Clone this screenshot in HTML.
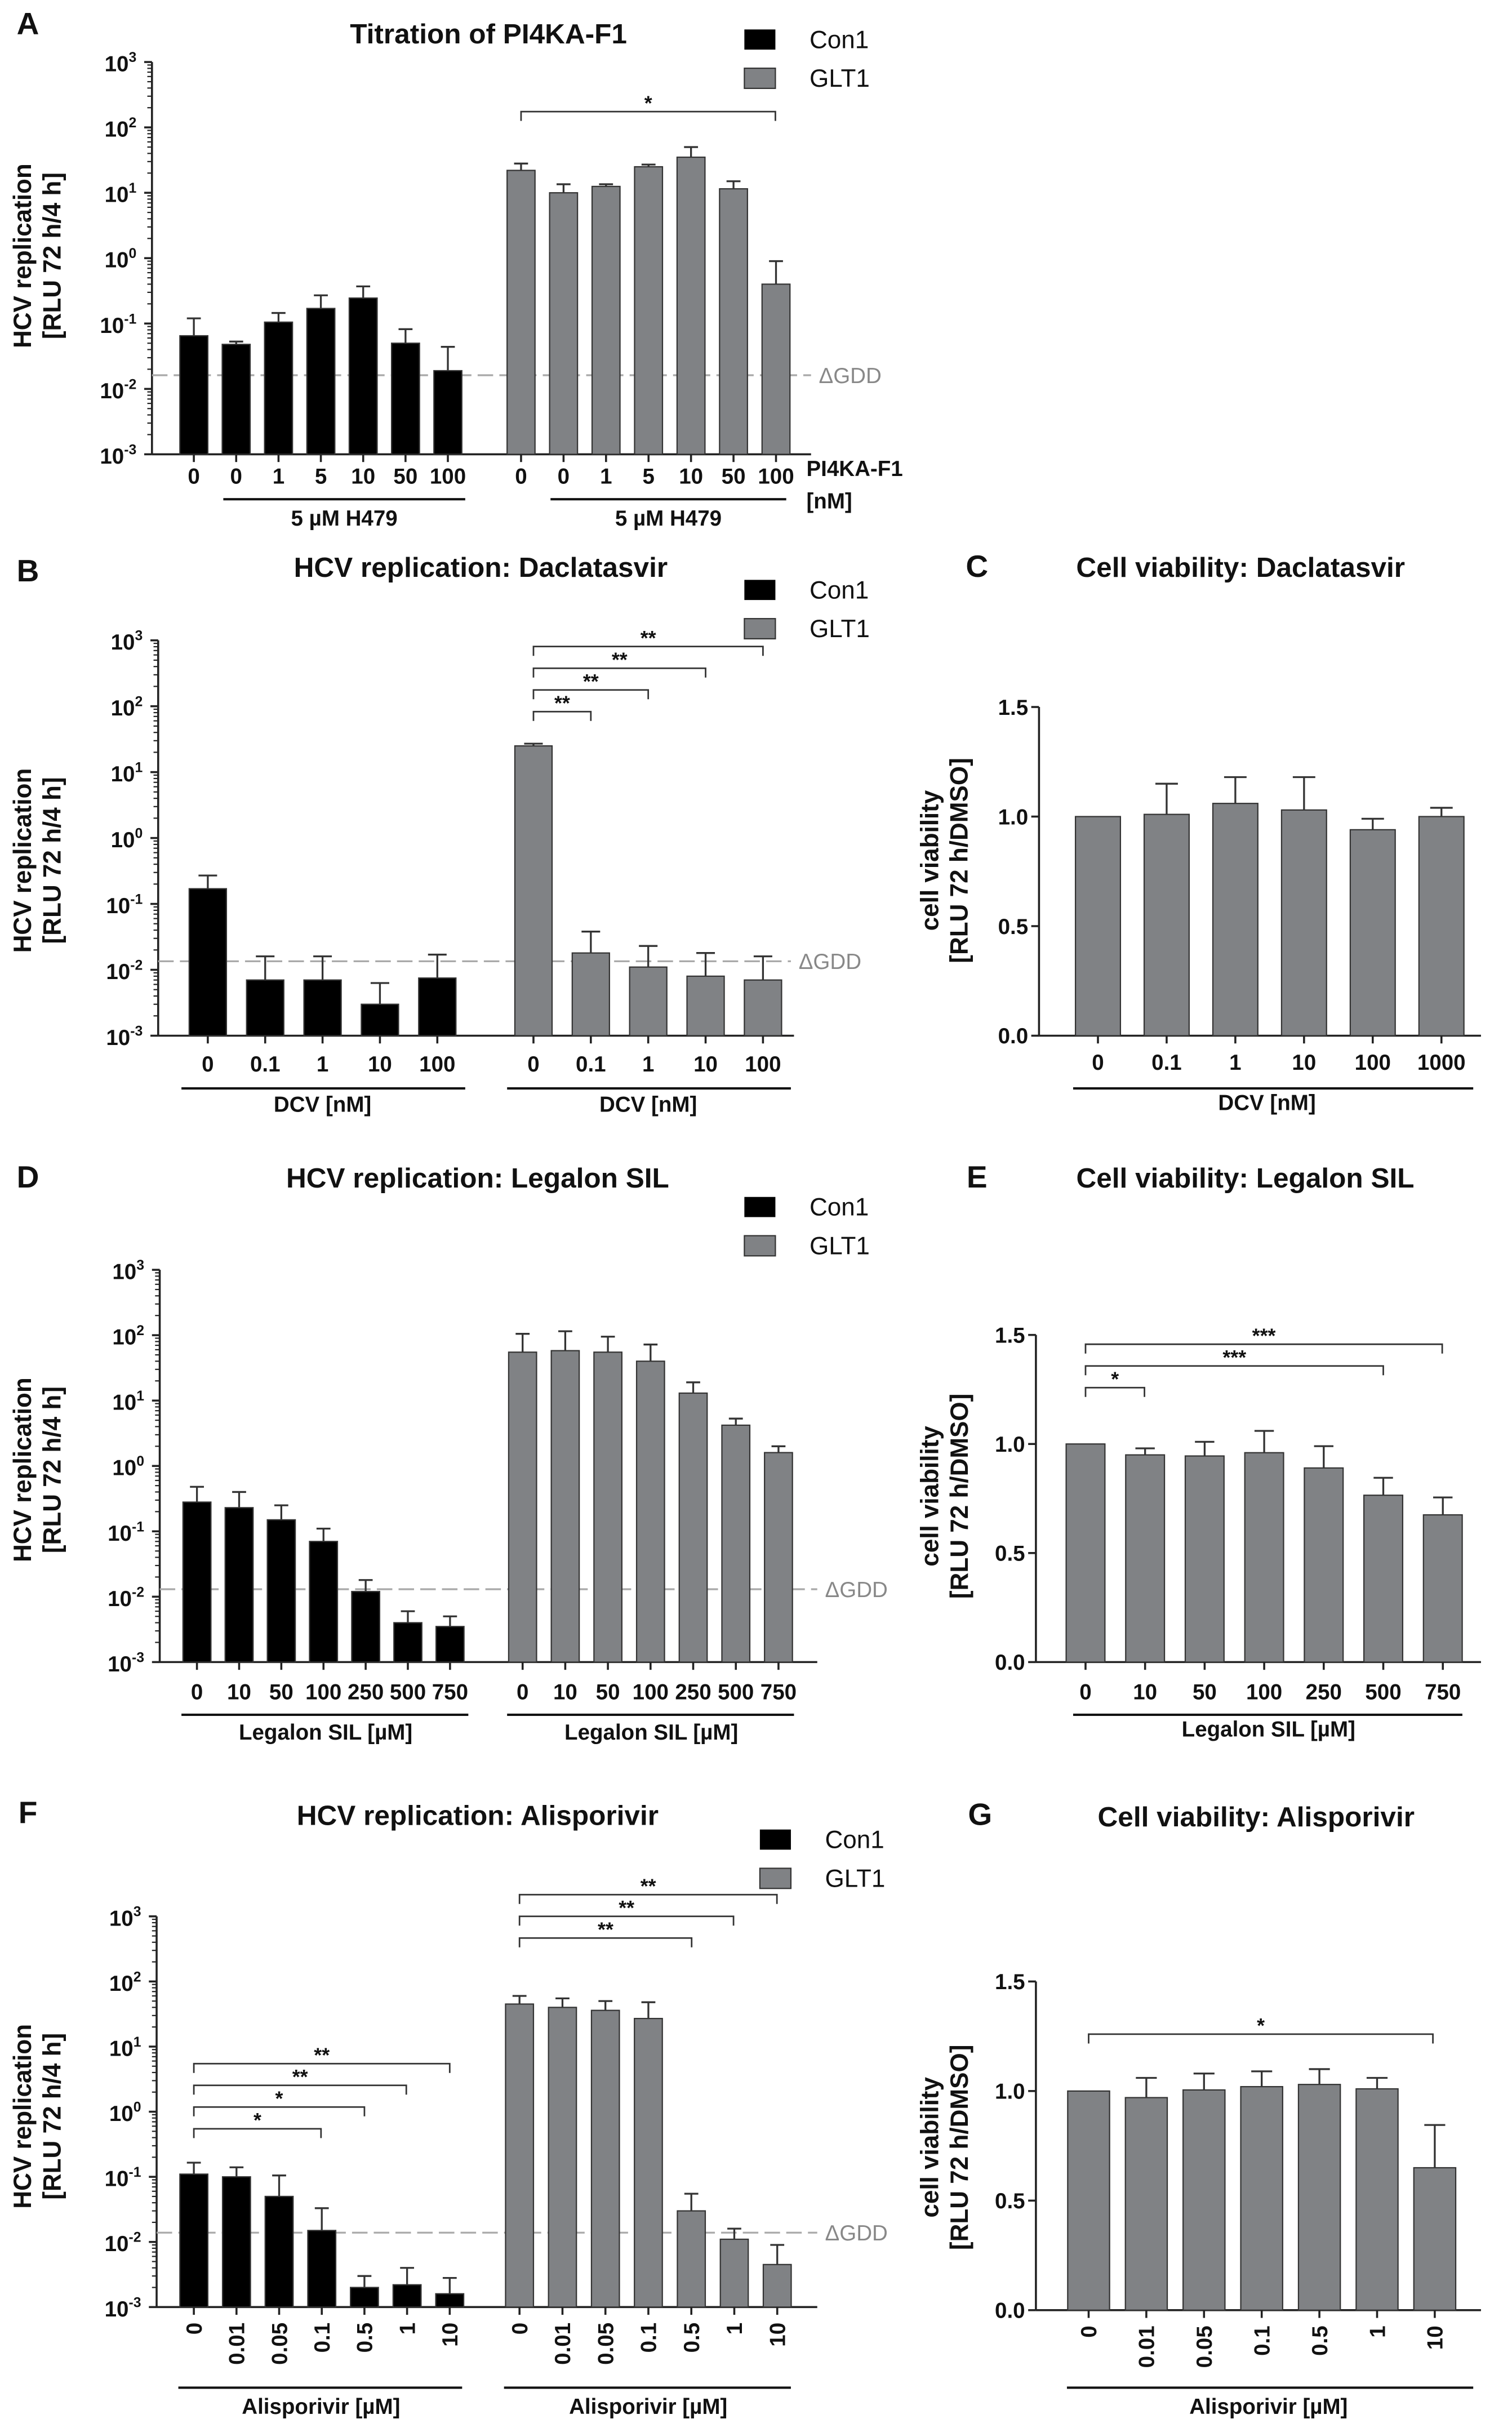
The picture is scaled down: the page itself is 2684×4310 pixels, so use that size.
<!DOCTYPE html>
<html><head><meta charset="utf-8"><style>
html,body{margin:0;padding:0;background:#fff}
svg{display:block}
text{font-family:"Liberation Sans",sans-serif;font-weight:bold;fill:#111}
</style></head><body>
<svg id="fig" xmlns="http://www.w3.org/2000/svg" width="2684" height="4310" viewBox="0 0 975 1566" preserveAspectRatio="none"></svg>
<script>
// ---------- data ----------
const aLabels = ["0","0","1","5","10","50","100"];
const aCon1 = [0.065,0.048,0.105,0.17,0.245,0.05,0.019];
const aCon1Err = [0.12,0.053,0.145,0.27,0.37,0.082,0.044];
const aGlt = [22,10,12.5,25,35,11.5,0.4];
const aGltErr = [28,13.5,13.5,27,50,15,0.9];

const bLabels = ["0","0.1","1","10","100"];
const bCon1 = [0.17,0.007,0.007,0.003,0.0075];
const bCon1Err = [0.27,0.016,0.016,0.0063,0.017];
const bGlt = [25,0.018,0.011,0.008,0.007];
const bGltErr = [27,0.038,0.023,0.018,0.016];

const cLabels = ["0","0.1","1","10","100","1000"];
const cVals = [1.0,1.01,1.06,1.03,0.94,1.0];
const cErr = [1.0,1.15,1.18,1.18,0.99,1.04];

const dLabels = ["0","10","50","100","250","500","750"];
const dCon1 = [0.28,0.23,0.15,0.07,0.012,0.004,0.0035];
const dCon1Err = [0.48,0.4,0.25,0.11,0.018,0.006,0.005];
const dGlt = [55,58,55,40,13,4.2,1.6];
const dGltErr = [105,115,95,72,19,5.3,2.0];

const eLabels = ["0","10","50","100","250","500","750"];
const eVals = [1.0,0.95,0.945,0.96,0.89,0.765,0.675];
const eErr = [1.0,0.98,1.01,1.06,0.99,0.845,0.755];

const fLabels = ["0","0.01","0.05","0.1","0.5","1","10"];
const fCon1 = [0.11,0.1,0.05,0.015,0.002,0.0022,0.0016];
const fCon1Err = [0.165,0.14,0.105,0.033,0.003,0.004,0.0028];
const fGlt = [45,40,36,27,0.03,0.011,0.0045];
const fGltErr = [60,55,50,48,0.055,0.016,0.009];

const gLabels = ["0","0.01","0.05","0.1","0.5","1","10"];
const gVals = [1.0,0.97,1.005,1.02,1.03,1.01,0.65];
const gErr = [1.0,1.06,1.08,1.09,1.1,1.06,0.845];

// ---------- drawing helpers ----------
const NS="http://www.w3.org/2000/svg";
const svg=document.getElementById('fig');
function el(tag,attrs,parent,txt){const e=document.createElementNS(NS,tag);for(const k in attrs)e.setAttribute(k,attrs[k]);if(txt!==undefined)e.textContent=txt;(parent||svg).appendChild(e);return e;}
function line(x1,y1,x2,y2,name,stroke,w,dash){
  const l=el('line',{x1,y1,x2,y2,stroke:stroke||'#222','stroke-width':w||1.3});
  if(dash)l.setAttribute('stroke-dasharray',dash);
  
  
  return l;}
function text(x,y,s,size,name,anchor,fill,rot){
  const t=el('text',{x,y,'font-size':size,'text-anchor':anchor||'middle'},null,s);
  if(fill)t.setAttribute('style','fill:'+fill+';font-weight:normal');
  if(rot)t.setAttribute('transform','rotate(-90 '+x+' '+y+')');
  
  
  return t;}
function sup(x,y,exp,name){
  const t=el('text',{x,y,'font-size':14,'text-anchor':'end'});
  
  
  el('tspan',{},t,'10');
  el('tspan',{dy:-6,'font-size':9},t,exp);
  return t;}
function logY(top,bot){const dec=(bot-top)/6;return v=>top+(3-Math.log10(v))*dec;}
function linY(top,bot){return v=>bot-(v/1.5)*(bot-top);}

function logAxis(x,top,bot,right,name){
  const y=logY(top,bot);
  line(x,top,x,bot,name+'-y-axis');
  line(x,bot,right,bot,name+'-x-axis');
  for(let e=-3;e<=3;e++){
    line(x-5,y(Math.pow(10,e)),x,y(Math.pow(10,e)),name+'-major-tick');
    sup(x-10,y(Math.pow(10,e))+6,String(e),name+'-tick-label');
    if(e<3)for(let m=2;m<=9;m++){const v=m*Math.pow(10,e);line(x-3,y(v),x,y(v),name+'-minor-tick','#222',0.8);}
  }
  return y;}
function linAxis(x,top,bot,right,name){
  const y=linY(top,bot);
  line(x,top,x,bot,name+'-y-axis');
  line(x,bot,right,bot,name+'-x-axis');
  [0,0.5,1.0,1.5].forEach(v=>{line(x-5,y(v),x,y(v),name+'-tick');text(x-7,y(v)+5,v.toFixed(1),14,name+'-tick-label','end');});
  return y;}
function bars(vals,errs,x0,step,w,y,base,fill,name){
  vals.forEach((v,i)=>{
    const cx=x0+i*step, top=y(v);
    const r=el('rect',{x:cx-w/2,y:top,width:w,height:base-top,fill:fill,stroke:'#333','stroke-width':0.8});
    
    
    const et=y(errs[i]);
    if(errs[i]>v){line(cx,top,cx,et,name+'-error-bar','#333',1.2);line(cx-w/4,et,cx+w/4,et,name+'-error-cap','#333',1.2);}
  });}
function xlabels(labels,x0,step,y,name,rot,base){
  labels.forEach((s,i)=>{
    const x=x0+i*step;
    line(x,base,x,base+5,name+'-x-tick');
    if(rot)text(x+5,y-6,s,14,name+'-x-tick-label','end',null,true);
    else text(x,y,s,14,name+'-x-tick-label');
  });}
function bracket(x1,x2,y,stars,name){
  const p=el('path',{d:`M${x1} ${y+6}V${y}H${x2}V${y+6}`,fill:'none',stroke:'#333','stroke-width':1});
  
  
  text((x1+x2)/2,y-1,stars,13,name+'-stars');}
function legend(x,y,name){
  const a=el('rect',{x,y,width:20,height:13,fill:'#000'});
  
  
  text(x+42,y+12,'Con1',16,name+'-legend-con1','start','#111');
  const b=el('rect',{x,y:y+25,width:20,height:13,fill:'#808285',stroke:'#333','stroke-width':0.8});
  
  
  text(x+42,y+37,'GLT1',16,name+'-legend-glt1','start','#111');}
function ylabel2(x,y,l1,l2,name){text(x,y,l1,16,name+'-y-title-1','middle',null,true);text(x+19,y,l2,16,name+'-y-title-2','middle',null,true);}
function gdd(x1,x2,y,name){line(x1,y,x2,y,name+'-gdd-line','#aaa',1.2,'10 4');text(x2+5,y+5,'ΔGDD',14,name+'-gdd-label','start','#888');}

const BLACK='#000', GREY='#808285';

// ---------- Panel A ----------
text(18,22,'A',20,'panel-a-letter');
text(315,28,'Titration of PI4KA-F1',18,'panel-a-title');
legend(480,19,'panel-a');
ylabel2(20,165,'HCV replication','[RLU 72 h/4 h]','panel-a');
let y=logAxis(98,40,293,523,'panel-a');
gdd(98,523,242,'panel-a');
bars(aCon1,aCon1Err,125,27.3,18,y,293,BLACK,'panel-a-con1');
bars(aGlt,aGltErr,336,27.4,18,y,293,GREY,'panel-a-glt1');
xlabels(aLabels,125,27.3,312,'panel-a-con1',false,293);
xlabels(aLabels,336,27.4,312,'panel-a-glt1',false,293);
line(144,322,300,322,'panel-a-underline-1','#111',1.5);line(355,322,507,322,'panel-a-underline-2','#111',1.5);
text(222,339,'5 µM H479',14,'panel-a-group-label-1');text(431,339,'5 µM H479',14,'panel-a-group-label-2');
text(520,307,'PI4KA-F1',14,'panel-a-x-title-1','start');text(520,328,'[nM]',14,'panel-a-x-title-2','start');
bracket(336,500,72,'*','panel-a-sig');

// ---------- Panel B ----------
text(18,375,'B',20,'panel-b-letter');
text(310,372,'HCV replication: Daclatasvir',18,'panel-b-title');
legend(480,374,'panel-b');
ylabel2(20,555,'HCV replication','[RLU 72 h/4 h]','panel-b');
y=logAxis(102,413,668,512,'panel-b');
gdd(102,510,620,'panel-b');
bars(bCon1,bCon1Err,134,37,24,y,668,BLACK,'panel-b-con1');
bars(bGlt,bGltErr,344,37,24,y,668,GREY,'panel-b-glt1');
xlabels(bLabels,134,37,691,'panel-b-con1',false,668);
xlabels(bLabels,344,37,691,'panel-b-glt1',false,668);
line(117,702,300,702,'panel-b-underline-1','#111',1.5);line(327,702,510,702,'panel-b-underline-2','#111',1.5);
text(208,717,'DCV [nM]',14,'panel-b-x-title-1');text(418,717,'DCV [nM]',14,'panel-b-x-title-2');
bracket(344,381,459,'**','panel-b-sig-1');bracket(344,418,445,'**','panel-b-sig-2');
bracket(344,455,431,'**','panel-b-sig-3');bracket(344,492,417,'**','panel-b-sig-4');

// ---------- Panel C ----------
text(630,372,'C',20,'panel-c-letter');
text(800,372,'Cell viability: Daclatasvir',18,'panel-c-title');
ylabel2(605,555,'cell viability','[RLU 72 h/DMSO]','panel-c');
y=linAxis(670,456,668,955,'panel-c');
bars(cVals,cErr,708,44.3,29,y,668,GREY,'panel-c');
xlabels(cLabels,708,44.3,690,'panel-c',false,668);
line(692,702,950,702,'panel-c-underline','#111',1.5);
text(817,716,'DCV [nM]',14,'panel-c-x-title');

// ---------- Panel D ----------
text(18,766,'D',20,'panel-d-letter');
text(308,766,'HCV replication: Legalon SIL',18,'panel-d-title');
legend(480,772,'panel-d');
ylabel2(20,948,'HCV replication','[RLU 72 h/4 h]','panel-d');
y=logAxis(103,819,1072,527,'panel-d');
gdd(103,527,1025,'panel-d');
bars(dCon1,dCon1Err,127,27.2,18,y,1072,BLACK,'panel-d-con1');
bars(dGlt,dGltErr,337,27.5,18,y,1072,GREY,'panel-d-glt1');
xlabels(dLabels,127,27.2,1096,'panel-d-con1',false,1072);
xlabels(dLabels,337,27.5,1096,'panel-d-glt1',false,1072);
line(117,1106,302,1106,'panel-d-underline-1','#111',1.5);line(327,1106,512,1106,'panel-d-underline-2','#111',1.5);
text(210,1122,'Legalon SIL [µM]',14,'panel-d-x-title-1');text(420,1122,'Legalon SIL [µM]',14,'panel-d-x-title-2');

// ---------- Panel E ----------
text(630,766,'E',20,'panel-e-letter');
text(803,766,'Cell viability: Legalon SIL',18,'panel-e-title');
ylabel2(605,965,'cell viability','[RLU 72 h/DMSO]','panel-e');
y=linAxis(668,861,1072,955,'panel-e');
bars(eVals,eErr,700,38.4,25,y,1072,GREY,'panel-e');
xlabels(eLabels,700,38.4,1096,'panel-e',false,1072);
line(692,1106,943,1106,'panel-e-underline','#111',1.5);
text(818,1120,'Legalon SIL [µM]',14,'panel-e-x-title');
bracket(700,738,895,'*','panel-e-sig-1');bracket(700,892,881,'***','panel-e-sig-2');bracket(700,930,867,'***','panel-e-sig-3');

// ---------- Panel F ----------
text(18,1176,'F',20,'panel-f-letter');
text(308,1177,'HCV replication: Alisporivir',18,'panel-f-title');
legend(490,1180,'panel-f');
ylabel2(20,1365,'HCV replication','[RLU 72 h/4 h]','panel-f');
y=logAxis(101,1236,1488,527,'panel-f');
gdd(101,527,1440,'panel-f');
bars(fCon1,fCon1Err,125,27.5,18,y,1488,BLACK,'panel-f-con1');
bars(fGlt,fGltErr,335,27.7,18,y,1488,GREY,'panel-f-glt1');
xlabels(fLabels,125,27.5,1504,'panel-f-con1',true,1488);
xlabels(fLabels,335,27.7,1504,'panel-f-glt1',true,1488);
line(115,1540,298,1540,'panel-f-underline-1','#111',1.5);line(325,1540,510,1540,'panel-f-underline-2','#111',1.5);
text(207,1557,'Alisporivir [µM]',14,'panel-f-x-title-1');text(418,1557,'Alisporivir [µM]',14,'panel-f-x-title-2');
bracket(125,207,1373,'*','panel-f-sig-1');bracket(125,235,1359,'*','panel-f-sig-2');
bracket(125,262,1345,'**','panel-f-sig-3');bracket(125,290,1331,'**','panel-f-sig-4');
bracket(335,446,1250,'**','panel-f-sig-5');bracket(335,473,1236,'**','panel-f-sig-6');bracket(335,501,1222,'**','panel-f-sig-7');

// ---------- Panel G ----------
text(632,1177,'G',20,'panel-g-letter');
text(810,1178,'Cell viability: Alisporivir',18,'panel-g-title');
ylabel2(605,1385,'cell viability','[RLU 72 h/DMSO]','panel-g');
y=linAxis(668,1278,1490,955,'panel-g');
bars(gVals,gErr,702,37.2,27,y,1490,GREY,'panel-g');
xlabels(gLabels,702,37.2,1506,'panel-g',true,1490);
line(688,1540,950,1540,'panel-g-underline','#111',1.5);
text(818,1557,'Alisporivir [µM]',14,'panel-g-x-title');
bracket(702,924,1312,'*','panel-g-sig');
</script>
</body></html>
